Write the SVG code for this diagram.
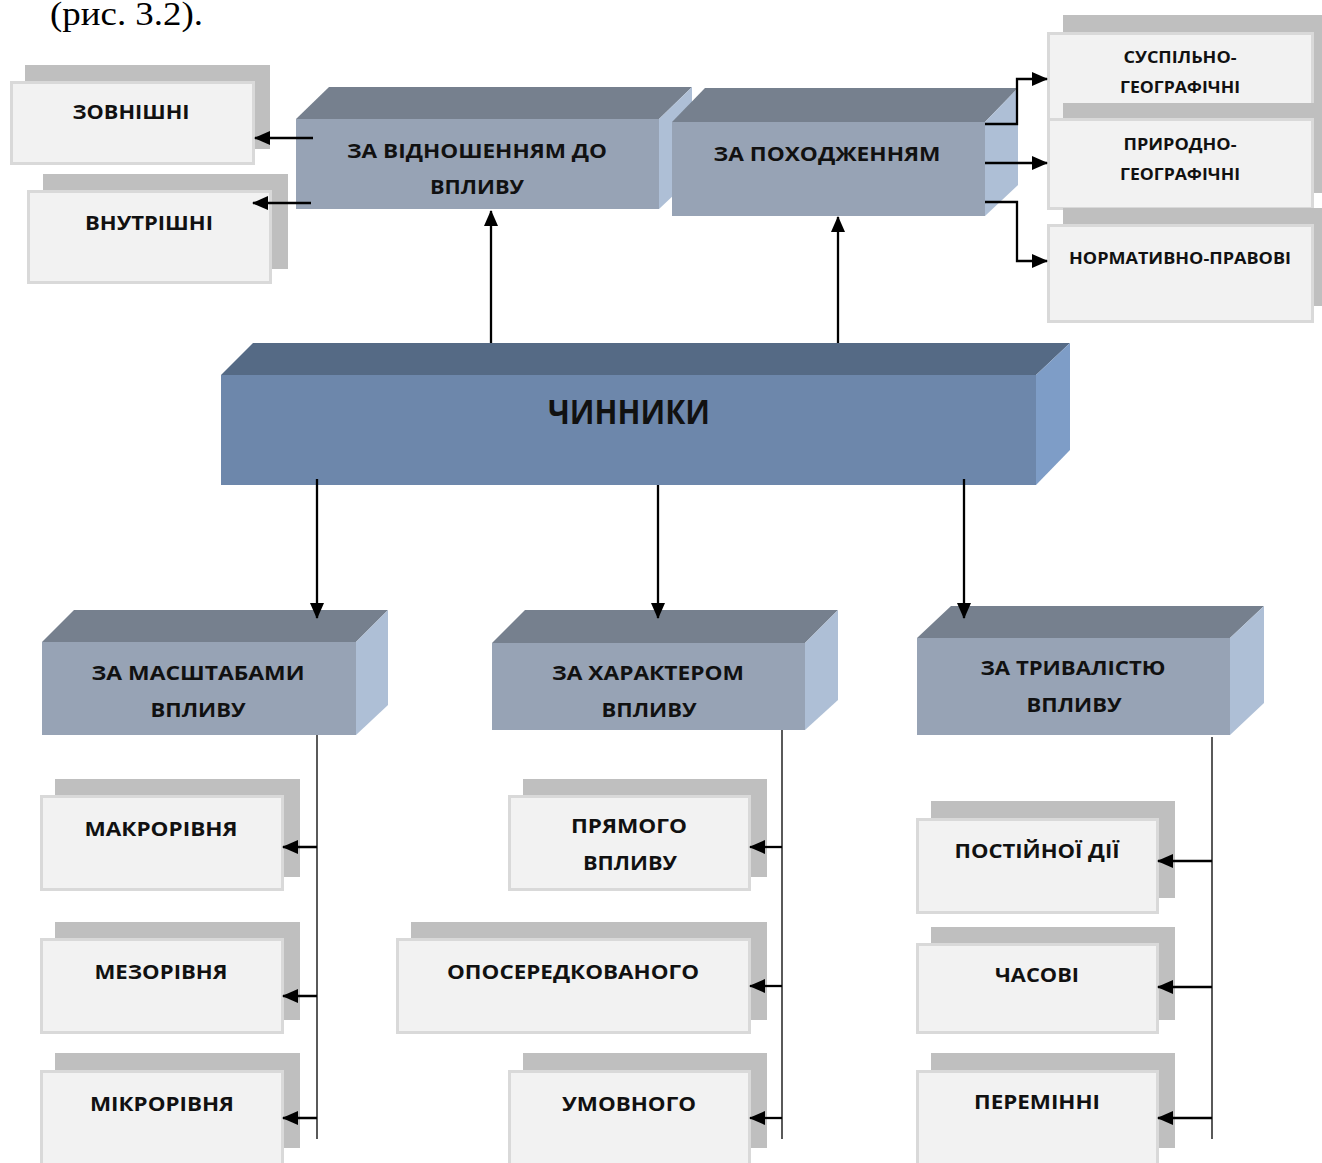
<svg xmlns="http://www.w3.org/2000/svg" width="1322" height="1163" viewBox="0 0 1322 1163">
<defs>
<marker id="ah" markerUnits="userSpaceOnUse" markerWidth="16" markerHeight="14" refX="15" refY="7" orient="auto">
<path d="M0,0 L16,7 L0,14 z" fill="#000"/>
</marker>
<style>
.t{font-family:"Open Sans","Noto Sans","DejaVu Sans",sans-serif;font-weight:700;fill:#111;text-anchor:middle}
.m{font-size:20px}
.s{font-size:16px}
.sh{fill:#bfbfbf}
.fr{fill:#f2f2f2;stroke:#d9d9d9;stroke-width:3}
.top{fill:#76808e}
.frt{fill:#97a3b5}
.rt{fill:#aebfd6}
.c{stroke:#000;stroke-width:2.3;fill:none}
.v{stroke:#000;stroke-width:1.3;fill:none}
</style>
</defs>
<rect width="1322" height="1163" fill="#fff"/>
<text x="50" y="25" font-family="Liberation Serif,serif" font-size="33" fill="#000" textLength="153" lengthAdjust="spacingAndGlyphs">(рис. 3.2).</text>

<g id="n-zovnishni"><rect class="sh" x="25" y="65" width="245" height="84"/><rect class="fr" x="11.5" y="82.5" width="242" height="81"/><text class="t m" x="131" y="119" textLength="117" lengthAdjust="spacingAndGlyphs">ЗОВНІШНІ</text></g>
<g id="n-vnutrishni"><rect class="sh" x="43" y="174" width="245" height="95"/><rect class="fr" x="28.5" y="191.5" width="242" height="91"/><text class="t m" x="149" y="230" textLength="128" lengthAdjust="spacingAndGlyphs">ВНУТРІШНІ</text></g>

<g id="n-vidnoshennyam">
<polygon class="top" points="296,119 329,87 692,87 659,119"/>
<polygon class="rt" points="659,119 692,87 692,178 659,209"/>
<rect class="frt" x="296" y="119" width="363" height="90"/>
<text class="t m" x="477" y="158" textLength="260" lengthAdjust="spacingAndGlyphs">ЗА ВІДНОШЕННЯМ ДО</text>
<text class="t m" x="477" y="194" textLength="94" lengthAdjust="spacingAndGlyphs">ВПЛИВУ</text>
</g>
<g id="n-pohodzhennyam">
<polygon class="top" points="672,122 705,88 1018,88 985,122"/>
<polygon class="rt" points="985,122 1018,88 1018,185 985,216"/>
<rect class="frt" x="672" y="122" width="313" height="94"/>
<text class="t m" x="827" y="161" textLength="227" lengthAdjust="spacingAndGlyphs">ЗА ПОХОДЖЕННЯМ</text>
</g>

<g id="n-suspilno"><rect class="sh" x="1063" y="15" width="270" height="90"/><rect class="fr" x="1048.5" y="33.5" width="264" height="88"/><text class="t s" x="1180" y="63" textLength="113" lengthAdjust="spacingAndGlyphs">СУСПІЛЬНО-</text><text class="t s" x="1180" y="93" textLength="120" lengthAdjust="spacingAndGlyphs">ГЕОГРАФІЧНІ</text></g>
<g id="n-pryrodno"><rect class="sh" x="1063" y="103" width="270" height="90"/><rect class="fr" x="1048.5" y="119.5" width="264" height="89"/><text class="t s" x="1180" y="150" textLength="113" lengthAdjust="spacingAndGlyphs">ПРИРОДНО-</text><text class="t s" x="1180" y="180" textLength="120" lengthAdjust="spacingAndGlyphs">ГЕОГРАФІЧНІ</text></g>
<g id="n-normatyvno"><rect class="sh" x="1063" y="208" width="270" height="98"/><rect class="fr" x="1048.5" y="225.5" width="264" height="96"/><text class="t s" x="1180" y="264" textLength="222" lengthAdjust="spacingAndGlyphs">НОРМАТИВНО-ПРАВОВІ</text></g>

<g id="n-chynnyky">
<polygon fill="#556a85" points="221,375 253,343 1070,343 1036,375"/>
<polygon fill="#7e9dc7" points="1036,375 1070,343 1070,450 1036,485"/>
<rect fill="#6d87ab" x="221" y="375" width="815" height="110"/>
<text class="t" x="629" y="424" font-size="34" textLength="162" lengthAdjust="spacingAndGlyphs">ЧИННИКИ</text>
</g>

<g id="n-masshtab">
<polygon class="top" points="42,642 74,610 388,610 356,642"/>
<polygon class="rt" points="356,642 388,610 388,705 356,735"/>
<rect class="frt" x="42" y="642" width="314" height="93"/>
<text class="t m" x="198" y="680" textLength="213" lengthAdjust="spacingAndGlyphs">ЗА МАСШТАБАМИ</text>
<text class="t m" x="198" y="717" textLength="95" lengthAdjust="spacingAndGlyphs">ВПЛИВУ</text>
</g>
<g id="n-harakter">
<polygon class="top" points="492,643 525,610 838,610 805,643"/>
<polygon class="rt" points="805,643 838,610 838,700 805,730"/>
<rect class="frt" x="492" y="643" width="313" height="87"/>
<text class="t m" x="648" y="680" textLength="192" lengthAdjust="spacingAndGlyphs">ЗА ХАРАКТЕРОМ</text>
<text class="t m" x="649" y="717" textLength="95" lengthAdjust="spacingAndGlyphs">ВПЛИВУ</text>
</g>
<g id="n-tryvalist">
<polygon class="top" points="917,638 951,606 1264,606 1230,638"/>
<polygon class="rt" points="1230,638 1264,606 1264,703 1230,735"/>
<rect class="frt" x="917" y="638" width="313" height="97"/>
<text class="t m" x="1073" y="675" textLength="185" lengthAdjust="spacingAndGlyphs">ЗА ТРИВАЛІСТЮ</text>
<text class="t m" x="1074" y="712" textLength="95" lengthAdjust="spacingAndGlyphs">ВПЛИВУ</text>
</g>

<g id="n-makro"><rect class="sh" x="55" y="779" width="245" height="98"/><rect class="fr" x="41.5" y="796.5" width="241" height="93"/><text class="t m" x="161" y="836" textLength="153" lengthAdjust="spacingAndGlyphs">МАКРОРІВНЯ</text></g>
<g id="n-mezo"><rect class="sh" x="55" y="922" width="245" height="98"/><rect class="fr" x="41.5" y="939.5" width="241" height="93"/><text class="t m" x="161" y="979" textLength="133" lengthAdjust="spacingAndGlyphs">МЕЗОРІВНЯ</text></g>
<g id="n-mikro"><rect class="sh" x="55" y="1053" width="245" height="95"/><rect class="fr" x="41.5" y="1071.5" width="241" height="100"/><text class="t m" x="162" y="1111" textLength="144" lengthAdjust="spacingAndGlyphs">МІКРОРІВНЯ</text></g>

<g id="n-pryamoho"><rect class="sh" x="523" y="779" width="244" height="98"/><rect class="fr" x="509.5" y="796.5" width="240" height="93"/><text class="t m" x="629" y="833" textLength="116" lengthAdjust="spacingAndGlyphs">ПРЯМОГО</text><text class="t m" x="630" y="870" textLength="94" lengthAdjust="spacingAndGlyphs">ВПЛИВУ</text></g>
<g id="n-oposeredk"><rect class="sh" x="411" y="922" width="356" height="98"/><rect class="fr" x="397.5" y="939.5" width="352" height="93"/><text class="t m" x="573" y="979" textLength="252" lengthAdjust="spacingAndGlyphs">ОПОСЕРЕДКОВАНОГО</text></g>
<g id="n-umovnoho"><rect class="sh" x="523" y="1053" width="244" height="95"/><rect class="fr" x="509.5" y="1071.5" width="240" height="100"/><text class="t m" x="629" y="1111" textLength="134" lengthAdjust="spacingAndGlyphs">УМОВНОГО</text></g>

<g id="n-postiynoi"><rect class="sh" x="931" y="801" width="244" height="97"/><rect class="fr" x="917.5" y="819.5" width="240" height="93"/><text class="t m" x="1037" y="858" textLength="165" lengthAdjust="spacingAndGlyphs">ПОСТІЙНОЇ ДІЇ</text></g>
<g id="n-chasovi"><rect class="sh" x="931" y="927" width="244" height="93"/><rect class="fr" x="917.5" y="944.5" width="240" height="88"/><text class="t m" x="1037" y="982" textLength="84" lengthAdjust="spacingAndGlyphs">ЧАСОВІ</text></g>
<g id="n-peremnni"><rect class="sh" x="931" y="1053" width="244" height="95"/><rect class="fr" x="917.5" y="1071.5" width="240" height="100"/><text class="t m" x="1037" y="1109" textLength="126" lengthAdjust="spacingAndGlyphs">ПЕРЕМІННІ</text></g>

<g id="connectors">
<line class="c" x1="313" y1="138" x2="255" y2="138" marker-end="url(#ah)"/>
<line class="c" x1="311" y1="203" x2="253" y2="203" marker-end="url(#ah)"/>
<line class="c" x1="491" y1="343" x2="491" y2="211" marker-end="url(#ah)"/>
<line class="c" x1="838" y1="343" x2="838" y2="217" marker-end="url(#ah)"/>
<polyline class="c" points="985,124 1017,124 1017,79 1047,79" marker-end="url(#ah)"/>
<line class="c" x1="985" y1="163" x2="1047" y2="163" marker-end="url(#ah)"/>
<polyline class="c" points="985,202 1017,202 1017,261 1047,261" marker-end="url(#ah)"/>
<line class="c" x1="317" y1="479" x2="317" y2="618" marker-end="url(#ah)"/>
<line class="c" x1="658" y1="485" x2="658" y2="618" marker-end="url(#ah)"/>
<line class="c" x1="964" y1="479" x2="964" y2="618" marker-end="url(#ah)"/>
<line class="v" x1="317" y1="735" x2="317" y2="1139"/>
<line class="v" x1="782" y1="730" x2="782" y2="1139"/>
<line class="v" x1="1212" y1="737" x2="1212" y2="1139"/>
<line class="c" x1="317" y1="847" x2="283" y2="847" marker-end="url(#ah)"/>
<line class="c" x1="317" y1="996" x2="283" y2="996" marker-end="url(#ah)"/>
<line class="c" x1="317" y1="1118" x2="283" y2="1118" marker-end="url(#ah)"/>
<line class="c" x1="782" y1="847" x2="750" y2="847" marker-end="url(#ah)"/>
<line class="c" x1="782" y1="986" x2="750" y2="986" marker-end="url(#ah)"/>
<line class="c" x1="782" y1="1118" x2="750" y2="1118" marker-end="url(#ah)"/>
<line class="c" x1="1212" y1="861" x2="1158" y2="861" marker-end="url(#ah)"/>
<line class="c" x1="1212" y1="987" x2="1158" y2="987" marker-end="url(#ah)"/>
<line class="c" x1="1212" y1="1118" x2="1158" y2="1118" marker-end="url(#ah)"/>
</g>
</svg>
